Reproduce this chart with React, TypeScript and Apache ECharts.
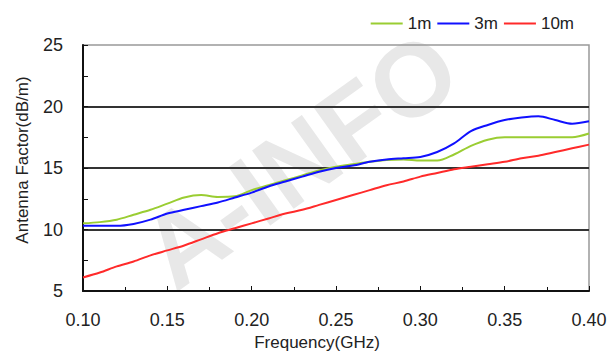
import React, { useEffect, useRef } from "react";
import * as echarts from "echarts";

const freq = [0.10, 0.11, 0.12, 0.13, 0.14, 0.15, 0.16, 0.17, 0.18, 0.19, 0.20, 0.21, 0.22, 0.23, 0.24, 0.25, 0.26, 0.27, 0.28, 0.29, 0.30, 0.31, 0.32, 0.33, 0.34, 0.35, 0.36, 0.37, 0.38, 0.39, 0.40];
const af1m = [10.5, 10.6, 10.8, 11.2, 11.6, 12.1, 12.6, 12.8, 12.65, 12.7, 13.2, 13.6, 14.0, 14.4, 14.8, 15.1, 15.3, 15.5, 15.65, 15.7, 15.6, 15.6, 16.1, 16.8, 17.3, 17.5, 17.5, 17.5, 17.5, 17.5, 17.8];
const af3m = [10.3, 10.3, 10.3, 10.45, 10.8, 11.3, 11.6, 11.9, 12.2, 12.6, 13.0, 13.5, 13.9, 14.3, 14.7, 15.0, 15.2, 15.5, 15.7, 15.8, 15.9, 16.3, 17.0, 18.0, 18.5, 18.9, 19.1, 19.2, 18.9, 18.6, 18.8];
const af10m = [6.1, 6.5, 7.0, 7.4, 7.9, 8.3, 8.7, 9.2, 9.7, 10.1, 10.5, 10.9, 11.3, 11.6, 12.0, 12.4, 12.8, 13.2, 13.6, 13.9, 14.3, 14.6, 14.9, 15.1, 15.3, 15.5, 15.8, 16.0, 16.3, 16.6, 16.9];
const seriesNames = ["1m", "3m", "10m"];
const seriesColors = ["#9acd32", "#1010ff", "#ff2a2a"];
const watermarkText = "A-INFO";

const FONT = '"Liberation Sans", Arial, sans-serif';

export default function App() {
  const ref = useRef<HTMLDivElement>(null);
  useEffect(() => {
    if (!ref.current) return;
    const chart = echarts.init(ref.current, null, { renderer: "svg" });
    const datasets = [af1m, af3m, af10m];
    chart.setOption({
      animation: false,
      backgroundColor: "#ffffff",
      textStyle: { fontFamily: FONT },
      graphic: [
        {
          type: "text",
          x: 300,
          y: 160,
          rotation: 0.62,
          z: -10,
          silent: true,
          style: {
            text: watermarkText,
            font: `bold 104px ${FONT}`,
            fill: "#e8e8e8",
            align: "center",
            verticalAlign: "middle",
          },
        },
      ],
      legend: {
        top: 10,
        right: 36,
        icon: "rect",
        itemWidth: 32,
        itemHeight: 2,
        itemGap: 6,
        textStyle: { fontSize: 17, color: "#222", fontFamily: FONT },
        data: seriesNames,
      },
      grid: {
        left: 83,
        right: 26,
        top: 45,
        bottom: 64,
        show: true,
        borderColor: "#999",
        borderWidth: 1.5,
        backgroundColor: "transparent",
      },
      xAxis: {
        type: "value",
        min: 0.1,
        max: 0.4,
        interval: 0.05,
        name: "Frequency(GHz)",
        nameLocation: "middle",
        nameGap: 43,
        nameTextStyle: { fontSize: 17, color: "#222", padding: [0, 38, 0, 0] },
        axisLine: { show: true, lineStyle: { color: "#111", width: 2 } },
        axisTick: { show: true, inside: true, length: 5, lineStyle: { color: "#111" } },
        minorTick: { show: true, splitNumber: 2, length: 4, lineStyle: { color: "#111" } },
        axisLabel: {
          fontSize: 18,
          color: "#222",
          margin: 20,
          formatter: (v: number) => v.toFixed(2),
        },
        splitLine: { show: false },
      },
      yAxis: {
        type: "value",
        min: 5,
        max: 25,
        interval: 5,
        name: "Antenna Factor(dB/m)",
        nameLocation: "middle",
        nameGap: 52,
        nameRotate: 90,
        nameTextStyle: { fontSize: 17, color: "#222", padding: [0, 0, 0, 16] },
        axisLine: { show: true, lineStyle: { color: "#111", width: 2 } },
        axisTick: { show: true, inside: true, length: 5, lineStyle: { color: "#111" } },
        minorTick: { show: true, splitNumber: 2, length: 5, lineStyle: { color: "#111" } },
        axisLabel: { fontSize: 18, color: "#222", margin: 20 },
        splitLine: {
          show: true,
          showMinLine: false,
          showMaxLine: false,
          lineStyle: { color: "#333", width: 2 },
        },
      },
      series: seriesNames.map((name, k) => ({
        name,
        type: "line",
        symbol: "none",
        smooth: 0.3,
        z: 5,
        data: freq.map((f, i) => [f, datasets[k][i]]),
        lineStyle: { color: seriesColors[k], width: 2 },
        itemStyle: { color: seriesColors[k] },
      })),
    });
    return () => chart.dispose();
  }, []);
  return <div ref={ref} style={{ width: 615, height: 356, position: "absolute", left: 0, top: 0 }} />;
}
